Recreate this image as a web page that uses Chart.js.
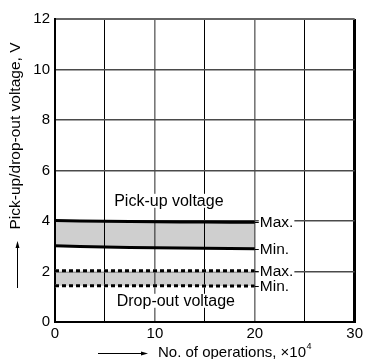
<!DOCTYPE html>
<html>
<head>
<meta charset="utf-8">
<script src="https://cdn.jsdelivr.net/npm/chart.js@4.4.1/dist/chart.umd.min.js"></script>
<style>
html,body{margin:0;padding:0;background:#fff;}
#wrap{width:366px;height:359px;}
</style>
</head>
<body>
<div id="wrap"><canvas id="c" width="366" height="359"></canvas></div>
<script>
// ---- data ----
const xOps = [0, 5, 10, 15, 20];               // No. of operations, x10^4
const pickupMax = [4.02, 3.99, 3.97, 3.96, 3.95];
const pickupMin = [3.02, 2.97, 2.94, 2.92, 2.90];
const dropoutMax = [2.03, 2.03, 2.03, 2.03, 2.03];
const dropoutMin = [1.44, 1.44, 1.44, 1.43, 1.43];
const xTickValues = [0, 10, 20, 30];
const yTickValues = [0, 2, 4, 6, 8, 10, 12];
const seriesLabels = ['Max.', 'Min.', 'Max.', 'Min.'];
const bandLabels = ['Pick-up voltage', 'Drop-out voltage'];
const yTitle = 'Pick-up/drop-out voltage, V';
const xTitle = 'No. of operations, \u00d710';
const xTitleSup = '4';

const FONT = '"Liberation Sans", Arial, Helvetica, sans-serif';
const pts = arr => arr.map((v, i) => ({x: xOps[i], y: v}));

const annot = {
  id: 'annot',
  afterDatasetsDraw(chart) {
    const ctx = chart.ctx;
    const xs = chart.scales.x, ys = chart.scales.y;
    ctx.save();
    ctx.fillStyle = '#000';
    ctx.textBaseline = 'middle';

    function boxedText(t, x, y, align) {
      ctx.textAlign = align;
      const w = ctx.measureText(t).width;
      const left = align === 'center' ? x - w / 2 : x;
      ctx.fillStyle = '#fff';
      ctx.fillRect(left - 1, y - 7, w + 2, 14);
      ctx.fillStyle = '#000';
      ctx.fillText(t, x, y + 0.5);
    }
    // band titles
    ctx.font = '16px ' + FONT;
    boxedText(bandLabels[0], xs.getPixelForValue(11.4), ys.getPixelForValue(4.8), 'center');
    boxedText(bandLabels[1], xs.getPixelForValue(12.1), ys.getPixelForValue(0.84), 'center');

    // Max./Min. labels at the ends of the series
    ctx.font = '15.5px ' + FONT;
    const series = [pickupMax, pickupMin, dropoutMax, dropoutMin];
    series.forEach((s, i) => {
      const last = s.length - 1;
      const px = xs.getPixelForValue(xOps[last]);
      const py = ys.getPixelForValue(s[last]);
      ctx.strokeStyle = '#000';
      ctx.lineWidth = 1;
      ctx.beginPath();
      ctx.moveTo(px, Math.round(py) + 0.5);
      ctx.lineTo(px + 5, Math.round(py) + 0.5);
      ctx.stroke();
      boxedText(seriesLabels[i], px + 5, py, 'left');
    });

    // y title (rotated) with arrow
    ctx.save();
    ctx.translate(15.5, 136);
    ctx.rotate(-Math.PI / 2);
    ctx.textAlign = 'center';
    ctx.font = '15.5px ' + FONT;
    ctx.fillText(yTitle, 0, 0);
    ctx.restore();
    ctx.strokeStyle = '#000';
    ctx.lineWidth = 1;
    ctx.beginPath();
    ctx.moveTo(17.5, 288);
    ctx.lineTo(17.5, 246);
    ctx.stroke();
    ctx.beginPath();
    ctx.moveTo(17.5, 241);
    ctx.lineTo(15.5, 248);
    ctx.lineTo(19.5, 248);
    ctx.closePath();
    ctx.fill();

    // x title with arrow
    ctx.font = '15px ' + FONT;
    ctx.textAlign = 'left';
    ctx.fillText(xTitle, 158, 353);
    const tw = ctx.measureText(xTitle).width;
    ctx.font = '9px ' + FONT;
    ctx.fillText(xTitleSup, 158 + tw + 0.5, 347);
    ctx.beginPath();
    ctx.moveTo(98, 353.5);
    ctx.lineTo(142, 353.5);
    ctx.stroke();
    ctx.beginPath();
    ctx.moveTo(148, 353.5);
    ctx.lineTo(141, 351.5);
    ctx.lineTo(141, 355.5);
    ctx.closePath();
    ctx.fill();
    ctx.restore();
  }
};

new Chart(document.getElementById('c'), {
  type: 'line',
  data: {
    datasets: [
      {data: pts(pickupMax), borderColor: '#000', borderWidth: 3, pointRadius: 0,
       fill: '+1', backgroundColor: 'rgba(0,0,0,0.19)', order: 1, tension: 0.3},
      {data: pts(pickupMin), borderColor: '#000', borderWidth: 3, pointRadius: 0,
       fill: false, order: 1, tension: 0.3},
      {data: pts(dropoutMax), borderColor: '#000', borderWidth: 3, pointRadius: 0,
       borderDash: [4, 3], fill: '+1', backgroundColor: 'rgba(0,0,0,0.19)', order: 1},
      {data: pts(dropoutMin), borderColor: '#000', borderWidth: 3, pointRadius: 0,
       borderDash: [4, 3], fill: false, order: 1},
      {data: pts(dropoutMax), borderColor: '#fff', borderWidth: 3, pointRadius: 0, fill: false, order: 5},
      {data: pts(dropoutMin), borderColor: '#fff', borderWidth: 3, pointRadius: 0, fill: false, order: 5}
    ]
  },
  options: {
    responsive: false,
    animation: false,
    layout: {padding: {top: 19, right: 8, left: 0, bottom: 0}},
    plugins: {legend: {display: false}, tooltip: {enabled: false}},
    scales: {
      x: {
        type: 'linear', min: 0, max: 30,
        afterBuildTicks: s => { s.ticks = [0, 5, 10, 15, 20, 25, 30].map(v => ({value: v})); },
        afterFit: s => { s.height = 37; },
        ticks: {
          color: '#000', padding: 3, maxRotation: 0, autoSkip: false,
          font: {family: FONT, size: 15},
          callback: v => xTickValues.includes(v) ? String(v) : ''
        },
        grid: {
          drawTicks: false,
          color: c => { const v = c.tick && c.tick.value; return (v === 10 || v === 20) ? '#777' : '#000'; },
          lineWidth: c => { const v = c.tick && c.tick.value; if (v === 30) return 3; if (v === 0) return 2; return (v === 10 || v === 20) ? 1.6 : 1; }
        },
        border: {color: '#000', width: 2}
      },
      y: {
        min: 0, max: 12,
        afterBuildTicks: s => { s.ticks = yTickValues.map(v => ({value: v})); },
        afterFit: s => { s.width = 55; },
        ticks: {color: '#000', padding: 5, font: {family: FONT, size: 15}},
        grid: {
          drawTicks: false,
          color: c => { const v = c.tick && c.tick.value; if (v === 0) return '#000'; if (v === 12) return '#666'; return '#4a4a4a'; },
          lineWidth: c => { const v = c.tick && c.tick.value; if (v === 0 || v === 12) return 2; return 1.5; }
        },
        border: {color: '#000', width: 2}
      }
    }
  },
  plugins: [annot]
});
</script>
</body>
</html>
